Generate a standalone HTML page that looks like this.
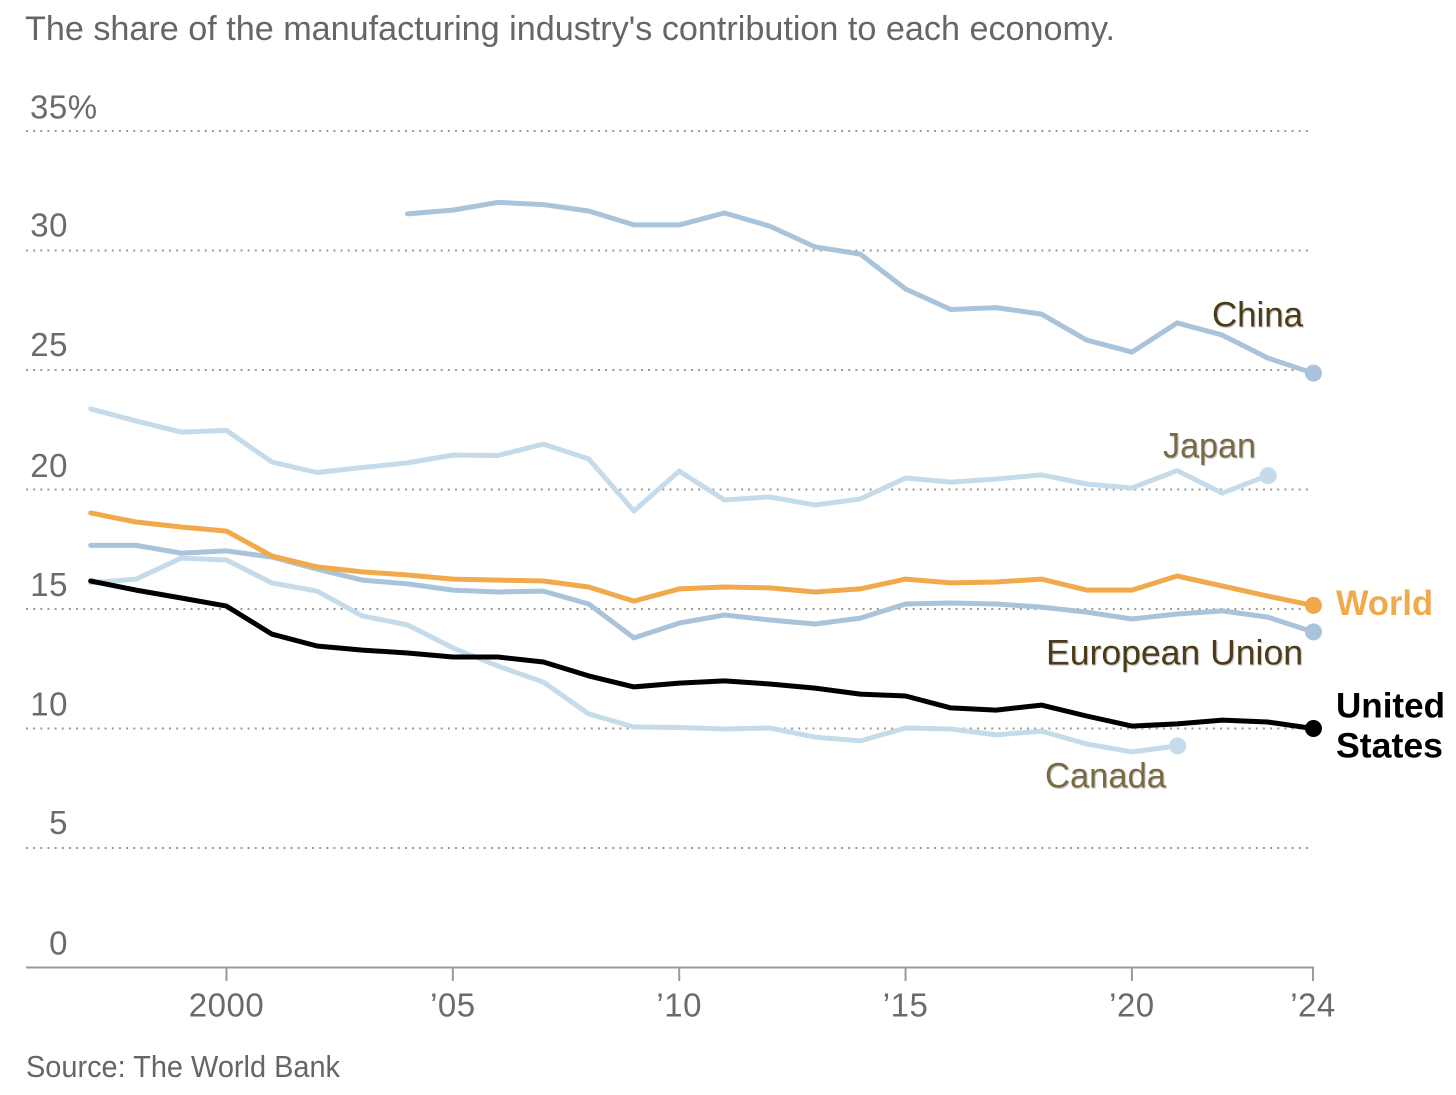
<!DOCTYPE html>
<html lang="en">
<head>
<meta charset="utf-8">
<title>Manufacturing share of economy</title>
<style>
html,body{margin:0;padding:0;background:#fff;width:1456px;height:1095px;overflow:hidden}
svg{display:block;font-family:"Liberation Sans",sans-serif}
.tick{fill:#6b6b6b;font-size:33px;letter-spacing:0.5px}
.lab{font-size:35px}
.lab-shadow{text-shadow:1px 1px 1px #bdbdbd}
</style>
</head>
<body>
<svg id="chart" width="1456" height="1095" viewBox="0 0 1456 1095" xmlns="http://www.w3.org/2000/svg">
  <rect width="1456" height="1095" fill="#fff"/>
  <text x="25" y="40" font-size="34" fill="#666" textLength="1090" lengthAdjust="spacingAndGlyphs">The share of the manufacturing industry's contribution to each economy.</text>
  <g id="grid"></g>
  <g id="axis"></g>
  <g id="series"></g>
  <text class="lab lab-shadow" x="1212" y="326.5" fill="#4b3b17" textLength="91" lengthAdjust="spacingAndGlyphs">China</text>
  <text class="lab lab-shadow" x="1163" y="457.5" fill="#7a6a42" textLength="93" lengthAdjust="spacingAndGlyphs">Japan</text>
  <text class="lab" x="1336" y="615" fill="#f0a94b" font-weight="700" textLength="97" lengthAdjust="spacingAndGlyphs">World</text>
  <text class="lab lab-shadow" x="1046" y="664.5" fill="#4b3b17" textLength="257" lengthAdjust="spacingAndGlyphs">European Union</text>
  <text class="lab" x="1336" y="717.5" fill="#000" font-weight="700" textLength="109" lengthAdjust="spacingAndGlyphs">United</text>
  <text class="lab" x="1336" y="757.5" fill="#000" font-weight="700" textLength="107" lengthAdjust="spacingAndGlyphs">States</text>
  <text class="lab lab-shadow" x="1045" y="787.5" fill="#7a6a42" textLength="121" lengthAdjust="spacingAndGlyphs">Canada</text>
  <text x="26" y="1077" font-size="31" fill="#666" textLength="314" lengthAdjust="spacingAndGlyphs">Source: The World Bank</text>
</svg>
<script>
const yTicks = [0, 5, 10, 15, 20, 25, 30, 35];
const yTickLabels = ["0", "5", "10", "15", "20", "25", "30", "35%"];
const xTicks = [2000, 2005, 2010, 2015, 2020, 2024];
const xTickLabels = ["2000", "’05", "’10", "’15", "’20", "’24"];

const canadaStart = 1997;
const canadaValues = [16.07,16.23,17.11,17.03,16.07,15.73,14.69,14.31,13.35,12.59,11.92,10.59,10.04,10.02,9.96,10.00,9.62,9.46,10.00,9.96,9.71,9.87,9.33,9.00,9.25];
const japanStart = 1997;
const japanValues = [23.35,22.85,22.38,22.45,21.13,20.69,20.90,21.09,21.42,21.40,21.88,21.26,19.08,20.75,19.54,19.67,19.33,19.58,20.46,20.29,20.42,20.59,20.21,20.04,20.77,19.83,20.56];
const chinaStart = 2004;
const chinaValues = [31.51,31.67,31.99,31.90,31.63,31.05,31.05,31.55,31.00,30.13,29.83,28.37,27.51,27.59,27.32,26.23,25.73,26.95,26.44,25.48,24.85];
const euStart = 1997;
const euValues = [17.64,17.64,17.32,17.41,17.15,16.65,16.19,16.03,15.77,15.69,15.73,15.19,13.77,14.39,14.73,14.52,14.35,14.60,15.19,15.23,15.19,15.06,14.85,14.56,14.77,14.90,14.64,14.02];
const worldStart = 1997;
const worldValues = [19.00,18.62,18.41,18.24,17.20,16.74,16.53,16.40,16.23,16.19,16.15,15.90,15.31,15.82,15.90,15.86,15.69,15.82,16.23,16.07,16.11,16.23,15.77,15.77,16.36,15.94,15.52,15.13];
const usStart = 1997;
const usValues = [16.15,15.77,15.44,15.10,13.93,13.43,13.26,13.14,12.97,12.97,12.76,12.18,11.72,11.88,11.97,11.84,11.67,11.42,11.34,10.84,10.75,10.96,10.50,10.08,10.17,10.33,10.25,9.98];

const NS = "http://www.w3.org/2000/svg";
const xScale = function (year) { return 226.5 + (year - 2000) * 45.27; };
const yScale = function (value) { return 967 - value * 23.9; };

const gridGroup = document.getElementById("grid");
yTicks.forEach(function (tick, i) {
  if (tick > 0) {
    const line = document.createElementNS(NS, "line");
    
    
    line.setAttribute("x1", 26);
    line.setAttribute("x2", 1308);
    line.setAttribute("y1", yScale(tick) + 0.5);
    line.setAttribute("y2", yScale(tick) + 0.5);
    line.setAttribute("stroke", "#9a9a9a");
    line.setAttribute("stroke-width", 2);
    line.setAttribute("stroke-dasharray", "2 5.15");
    gridGroup.appendChild(line);
  }
  const label = document.createElementNS(NS, "text");
  
  
  label.setAttribute("class", "tick");
  label.setAttribute("x", tick === 35 ? 30 : 68);
  label.setAttribute("y", yScale(tick) - (tick === 5 || tick === 25 || tick === 30 ? 13.5 : tick === 20 || tick === 35 ? 12 : 12.5));
  label.setAttribute("text-anchor", tick === 35 ? "start" : "end");
  label.textContent = yTickLabels[i];
  gridGroup.appendChild(label);
});

const axisGroup = document.getElementById("axis");
const axisLine = document.createElementNS(NS, "line");


axisLine.setAttribute("x1", 26);
axisLine.setAttribute("x2", 1314);
axisLine.setAttribute("y1", 967.5);
axisLine.setAttribute("y2", 967.5);
axisLine.setAttribute("stroke", "#9a9a9a");
axisLine.setAttribute("stroke-width", 2);
axisGroup.appendChild(axisLine);

xTicks.forEach(function (year, i) {
  const mark = document.createElementNS(NS, "line");
  
  
  mark.setAttribute("x1", xScale(year));
  mark.setAttribute("x2", xScale(year));
  mark.setAttribute("y1", 967);
  mark.setAttribute("y2", 981);
  mark.setAttribute("stroke", "#9a9a9a");
  mark.setAttribute("stroke-width", 2);
  axisGroup.appendChild(mark);
  const label = document.createElementNS(NS, "text");
  
  
  label.setAttribute("class", "tick");
  label.setAttribute("x", xScale(year));
  label.setAttribute("y", 1016.5);
  label.setAttribute("text-anchor", "middle");
  label.textContent = xTickLabels[i];
  axisGroup.appendChild(label);
});

const seriesGroup = document.getElementById("series");
function drawSeries(name, startYear, values, colour) {
  const points = values.map(function (v, i) {
    return xScale(startYear + i).toFixed(1) + "," + yScale(v).toFixed(1);
  });
  const path = document.createElementNS(NS, "polyline");
  
  
  path.setAttribute("points", points.join(" "));
  path.setAttribute("fill", "none");
  path.setAttribute("stroke", colour);
  path.setAttribute("stroke-width", 5);
  path.setAttribute("stroke-linejoin", "round");
  path.setAttribute("stroke-linecap", "round");
  seriesGroup.appendChild(path);
}
function drawDot(name, startYear, values, colour) {
  const last = values.length - 1;
  const dot = document.createElementNS(NS, "circle");
  
  
  dot.setAttribute("cx", xScale(startYear + last) + 0.5);
  dot.setAttribute("cy", yScale(values[last]));
  dot.setAttribute("r", 8.5);
  dot.setAttribute("fill", colour);
  seriesGroup.appendChild(dot);
}
drawSeries("canada", canadaStart, canadaValues, "#c6dbea");
drawSeries("japan", japanStart, japanValues, "#c6dbea");
drawSeries("china", chinaStart, chinaValues, "#a9c3da");
drawSeries("european-union", euStart, euValues, "#a9c3da");
drawSeries("world", worldStart, worldValues, "#f0a94b");
drawSeries("united-states", usStart, usValues, "#000000");
drawDot("canada", canadaStart, canadaValues, "#c6dbea");
drawDot("japan", japanStart, japanValues, "#c6dbea");
drawDot("china", chinaStart, chinaValues, "#a9c3da");
drawDot("european-union", euStart, euValues, "#a9c3da");
drawDot("world", worldStart, worldValues, "#f0a94b");
drawDot("united-states", usStart, usValues, "#000000");
</script>
</body>
</html>
